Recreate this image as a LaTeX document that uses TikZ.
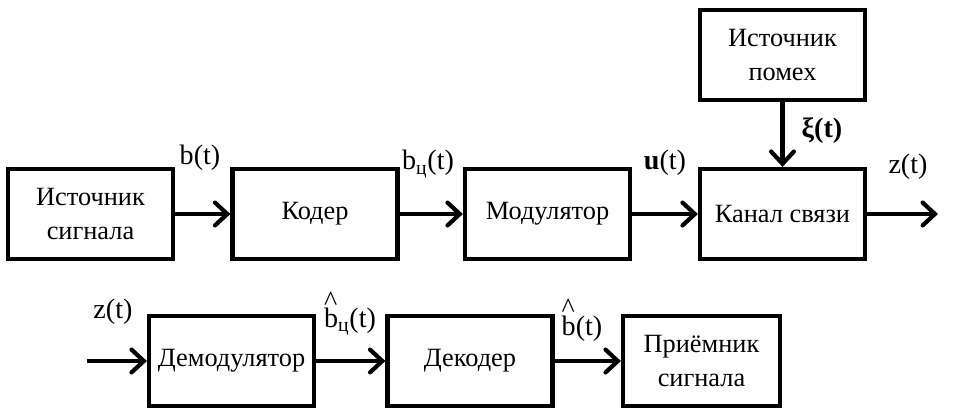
\documentclass[tikz,border=0pt]{standalone}
\usepackage{fontspec}
\setmainfont{Liberation Serif}
\usetikzlibrary{arrows.meta}

\tikzset{
  blok/.style={draw, line width=2.4pt, minimum width=3.3cm, minimum height=1.8cm,
    align=center, font=\fontsize{15}{19}\selectfont, inner sep=2pt},
  sig/.style={font=\fontsize{16}{18}\selectfont, inner sep=0pt},
  strelka/.style={line width=2.4pt, -{Straight Barb[length=7pt, width=13pt, line cap=round]}}
}

\begin{document}
\begin{tikzpicture}[x=0.02cm, y=-0.02cm]
  \useasboundingbox (0,0) rectangle (956,414);

  % Upper chain
  \node[blok] (src) at (90.5,214) {Источник\\сигнала};
  \node[blok] (coder) at (315,214) {Кодер};
  \node[blok] (mod) at (547.5,214) {Модулятор};
  \node[blok] (chan) at (782.5,214) {Канал связи};
  \node[blok] (noise) at (782.5,55) {Источник\\помех};
  \coordinate (out) at (938,214);

  % Lower chain
  \node[blok] (demod) at (231.5,361) {Демодулятор};
  \node[blok] (dec) at (470,361) {Декодер};
  \node[blok, minimum width=3.14cm] (rcv) at (701.5,361) {Приёмник\\сигнала};
  \coordinate (in) at (87,361);

  % Connections
  \draw[strelka] (src) -- (coder);
  \draw[strelka] (coder) -- (mod);
  \draw[strelka] (mod) -- (chan);
  \draw[strelka] (noise) -- (chan);
  \draw[strelka] (chan) -- (out);
  \draw[strelka] (in) -- (demod);
  \draw[strelka] (demod) -- (dec);
  \draw[strelka] (dec) -- (rcv);

  % Signal labels
  \node[sig] (lb) at (200,158) {b(t)};
  \node[sig] (lbc) at (428,164) {b\textsubscript{ц}(t)};
  \node[sig] (lu) at (665,163) {\textbf{u}(t)};
  \node[sig] (lxi) at (822,131) {\textbf{ξ(t)}};
  \node[sig] (lz) at (908,167) {z(t)};
  \node[sig] (lzin) at (113,312) {z(t)};
  \node[sig] (lbch) at (350,314) {\rlap{\raisebox{1.3ex}{\^{}}}b\textsubscript{ц}(t)};
  \node[sig] (lbh) at (582,320) {\rlap{\raisebox{1.4ex}{\^{}}}b(t)};
\end{tikzpicture}
\end{document}
